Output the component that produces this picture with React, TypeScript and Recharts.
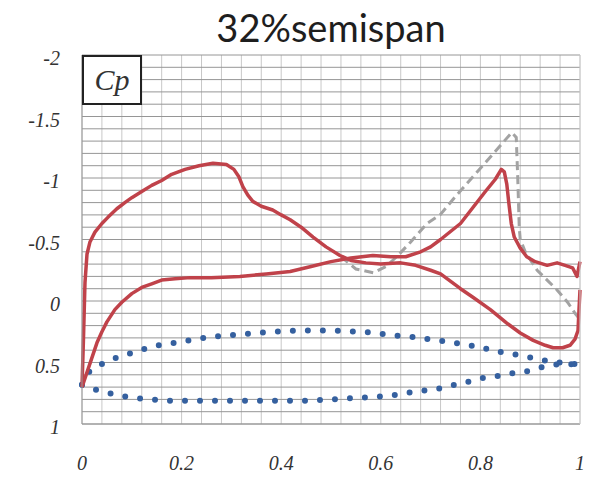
import React from "react";
import {
  LineChart,
  Line,
  XAxis,
  YAxis,
  CartesianGrid,
} from "recharts";

// Cp distribution at 32% semispan (x/c vs Cp, y axis reversed)
const redUpper = [
  { x: 0, cp: 0.7 }, { x: 0.003, cp: 0.3 }, { x: 0.006, cp: -0.15 },
  { x: 0.01, cp: -0.38 }, { x: 0.016, cp: -0.48 }, { x: 0.026, cp: -0.56 },
  { x: 0.04, cp: -0.63 }, { x: 0.052, cp: -0.68 }, { x: 0.07, cp: -0.75 },
  { x: 0.086, cp: -0.8 }, { x: 0.1, cp: -0.84 }, { x: 0.12, cp: -0.89 },
  { x: 0.14, cp: -0.94 }, { x: 0.16, cp: -0.98 }, { x: 0.18, cp: -1.03 },
  { x: 0.207, cp: -1.07 }, { x: 0.235, cp: -1.1 }, { x: 0.263, cp: -1.12 },
  { x: 0.29, cp: -1.11 }, { x: 0.305, cp: -1.07 }, { x: 0.315, cp: -1.01 },
  { x: 0.323, cp: -0.93 }, { x: 0.333, cp: -0.86 }, { x: 0.343, cp: -0.81 },
  { x: 0.36, cp: -0.77 }, { x: 0.383, cp: -0.74 }, { x: 0.4, cp: -0.7 },
  { x: 0.418, cp: -0.66 }, { x: 0.44, cp: -0.6 }, { x: 0.464, cp: -0.52 },
  { x: 0.49, cp: -0.44 }, { x: 0.518, cp: -0.37 }, { x: 0.54, cp: -0.33 },
  { x: 0.57, cp: -0.31 }, { x: 0.6, cp: -0.3 }, { x: 0.64, cp: -0.31 },
  { x: 0.67, cp: -0.29 }, { x: 0.7, cp: -0.25 }, { x: 0.72, cp: -0.22 },
  { x: 0.76, cp: -0.1 }, { x: 0.785, cp: -0.03 }, { x: 0.82, cp: 0.07 },
  { x: 0.853, cp: 0.18 }, { x: 0.88, cp: 0.26 }, { x: 0.906, cp: 0.32 },
  { x: 0.93, cp: 0.36 }, { x: 0.946, cp: 0.38 }, { x: 0.965, cp: 0.38 },
  { x: 0.98, cp: 0.36 }, { x: 0.99, cp: 0.31 }, { x: 0.996, cp: 0.24 },
  { x: 0.998, cp: 0.07 }, { x: 1.0, cp: -0.09 },
];

const redLower = [
  { x: 0, cp: 0.7 }, { x: 0.01, cp: 0.58 }, { x: 0.02, cp: 0.46 },
  { x: 0.03, cp: 0.34 }, { x: 0.04, cp: 0.25 }, { x: 0.05, cp: 0.17 },
  { x: 0.066, cp: 0.07 }, { x: 0.08, cp: 0.01 }, { x: 0.1, cp: -0.06 },
  { x: 0.12, cp: -0.11 }, { x: 0.14, cp: -0.14 }, { x: 0.16, cp: -0.17 },
  { x: 0.187, cp: -0.18 }, { x: 0.217, cp: -0.19 }, { x: 0.26, cp: -0.19 },
  { x: 0.317, cp: -0.2 }, { x: 0.37, cp: -0.22 }, { x: 0.418, cp: -0.24 },
  { x: 0.46, cp: -0.28 }, { x: 0.5, cp: -0.32 }, { x: 0.54, cp: -0.35 },
  { x: 0.584, cp: -0.37 }, { x: 0.62, cp: -0.36 }, { x: 0.65, cp: -0.36 },
  { x: 0.68, cp: -0.4 }, { x: 0.7, cp: -0.44 }, { x: 0.72, cp: -0.5 },
  { x: 0.76, cp: -0.63 }, { x: 0.785, cp: -0.76 }, { x: 0.81, cp: -0.89 },
  { x: 0.83, cp: -0.99 }, { x: 0.842, cp: -1.07 }, { x: 0.848, cp: -1.05 },
  { x: 0.853, cp: -0.95 }, { x: 0.857, cp: -0.8 }, { x: 0.862, cp: -0.63 },
  { x: 0.868, cp: -0.52 }, { x: 0.88, cp: -0.43 }, { x: 0.893, cp: -0.36 },
  { x: 0.91, cp: -0.32 }, { x: 0.934, cp: -0.29 }, { x: 0.954, cp: -0.31 },
  { x: 0.97, cp: -0.29 }, { x: 0.985, cp: -0.27 }, { x: 0.994, cp: -0.2 },
  { x: 1.0, cp: -0.32 },
];

const grayDashed = [
  { x: 0.52, cp: -0.36 }, { x: 0.55, cp: -0.26 }, { x: 0.585, cp: -0.23 },
  { x: 0.61, cp: -0.28 }, { x: 0.632, cp: -0.36 }, { x: 0.66, cp: -0.48 },
  { x: 0.693, cp: -0.63 }, { x: 0.719, cp: -0.7 }, { x: 0.75, cp: -0.85 },
  { x: 0.785, cp: -1.01 }, { x: 0.82, cp: -1.17 }, { x: 0.85, cp: -1.31 },
  { x: 0.863, cp: -1.37 }, { x: 0.872, cp: -1.33 }, { x: 0.875, cp: -1.0 },
  { x: 0.878, cp: -0.6 }, { x: 0.88, cp: -0.5 }, { x: 0.89, cp: -0.4 },
  { x: 0.914, cp: -0.25 }, { x: 0.934, cp: -0.17 }, { x: 0.954, cp: -0.09 },
  { x: 0.975, cp: 0.01 }, { x: 0.99, cp: 0.1 }, { x: 1.0, cp: 0.15 },
];

const blueUpper = [
  { x: 0, cp: 0.68 }, { x: 0.01, cp: 0.59 }, { x: 0.026, cp: 0.54 },
  { x: 0.056, cp: 0.48 }, { x: 0.085, cp: 0.44 }, { x: 0.11, cp: 0.41 },
  { x: 0.14, cp: 0.37 }, { x: 0.17, cp: 0.35 }, { x: 0.2, cp: 0.33 },
  { x: 0.23, cp: 0.31 }, { x: 0.26, cp: 0.29 }, { x: 0.29, cp: 0.28 },
  { x: 0.32, cp: 0.27 }, { x: 0.35, cp: 0.26 }, { x: 0.38, cp: 0.25 },
  { x: 0.41, cp: 0.245 }, { x: 0.44, cp: 0.24 }, { x: 0.5, cp: 0.24 },
  { x: 0.56, cp: 0.25 }, { x: 0.59, cp: 0.26 }, { x: 0.62, cp: 0.28 },
  { x: 0.65, cp: 0.285 }, { x: 0.68, cp: 0.3 }, { x: 0.71, cp: 0.32 },
  { x: 0.74, cp: 0.33 }, { x: 0.77, cp: 0.36 }, { x: 0.8, cp: 0.37 },
  { x: 0.825, cp: 0.41 }, { x: 0.855, cp: 0.42 }, { x: 0.886, cp: 0.45 },
  { x: 0.916, cp: 0.47 }, { x: 0.944, cp: 0.5 }, { x: 0.974, cp: 0.5 },
  { x: 1.0, cp: 0.52 },
];

const blueLower = [
  { x: 0, cp: 0.68 }, { x: 0.016, cp: 0.71 }, { x: 0.046, cp: 0.74 },
  { x: 0.076, cp: 0.77 }, { x: 0.106, cp: 0.79 }, { x: 0.136, cp: 0.8 },
  { x: 0.17, cp: 0.81 }, { x: 0.3, cp: 0.81 }, { x: 0.45, cp: 0.81 },
  { x: 0.5, cp: 0.8 }, { x: 0.56, cp: 0.785 }, { x: 0.59, cp: 0.78 },
  { x: 0.62, cp: 0.77 }, { x: 0.65, cp: 0.75 }, { x: 0.68, cp: 0.73 },
  { x: 0.71, cp: 0.72 }, { x: 0.735, cp: 0.69 }, { x: 0.765, cp: 0.67 },
  { x: 0.795, cp: 0.63 }, { x: 0.825, cp: 0.62 }, { x: 0.855, cp: 0.59 },
  { x: 0.886, cp: 0.58 }, { x: 0.914, cp: 0.545 }, { x: 0.944, cp: 0.52 },
  { x: 0.974, cp: 0.51 }, { x: 1.0, cp: 0.52 },
];

const xLabels = [0, 0.2, 0.4, 0.6, 0.8, 1];
const yLabels = [-2, -1.5, -1, -0.5, 0, 0.5, 1];

// grid spacing: 0.04 along x, 0.1 along Cp
const xGrid = Array.from({ length: 26 }, (_, i) => +(i * 0.04).toFixed(2));
const yGrid = Array.from({ length: 31 }, (_, i) => +(-2 + i * 0.1).toFixed(1));
const rightTicks = [0, 1, 2, 3, 4, 5, 6, 7, 8, 9];

const RED = "#c0424a";
const BLUE = "#35609f";
const GRAY = "#a3a3a3";

const tickFont = {
  fontFamily: "'Liberation Serif', serif",
  fontStyle: "italic",
  fontSize: 20,
  fill: "#333",
};

const fmt = (labels: number[]) => (v: number) =>
  labels.some((l) => Math.abs(l - v) < 1e-6) ? String(v) : "";

export default function App() {
  return (
    <div
      style={{
        position: "absolute",
        left: 0,
        top: 0,
        width: 597,
        height: 481,
        background: "#fff",
      }}
    >
      <div
        style={{
          position: "absolute",
          left: 82,
          width: 498,
          top: 4,
          textAlign: "center",
          fontFamily: "Lato, 'Noto Sans', sans-serif",
          fontSize: 38,
          color: "#1e1e1e",
        }}
      >
        32%semispan
      </div>
      <LineChart
        width={597}
        height={481}
        margin={{ top: 55, right: 0, bottom: 0, left: 0 }}
      >
        <CartesianGrid yAxisId="left" horizontal={false} stroke="#c8c8c8" />
        <CartesianGrid yAxisId="left" vertical={false} stroke="#969696" />
        <XAxis
          type="number"
          dataKey="x"
          domain={[0, 1]}
          ticks={xGrid}
          interval={0}
          tickFormatter={fmt(xLabels)}
          tickLine={false}
          tickSize={0}
          tickMargin={32}
          height={57}
          axisLine={{ stroke: "#999" }}
          tick={tickFont}
        />
        <YAxis
          yAxisId="left"
          type="number"
          domain={[-2, 1]}
          reversed
          ticks={yGrid}
          interval={0}
          tickFormatter={fmt(yLabels)}
          tickLine={false}
          tickSize={0}
          tickMargin={22}
          width={82}
          axisLine={{ stroke: "#999" }}
          tick={{ ...tickFont, dy: 3 }}
        />
        <YAxis
          yAxisId="right"
          orientation="right"
          type="number"
          domain={[0, 9]}
          ticks={rightTicks}
          interval={0}
          tickFormatter={() => ""}
          tickSize={5}
          width={17}
          axisLine={{ stroke: "#d0d0d0" }}
          tickLine={{ stroke: "#c0c0c0" }}
        />
        <Line
          yAxisId="left"
          data={blueUpper}
          dataKey="cp"
          type="linear"
          stroke={BLUE}
          strokeWidth={6}
          strokeDasharray="0 15"
          strokeLinecap="round"
          dot={false}
          isAnimationActive={false}
        />
        <Line
          yAxisId="left"
          data={blueLower}
          dataKey="cp"
          type="linear"
          stroke={BLUE}
          strokeWidth={6}
          strokeDasharray="0 15"
          strokeLinecap="round"
          dot={false}
          isAnimationActive={false}
        />
        <Line
          yAxisId="left"
          data={grayDashed}
          dataKey="cp"
          type="linear"
          stroke={GRAY}
          strokeWidth={3}
          strokeDasharray="9 5"
          dot={false}
          isAnimationActive={false}
        />
        <Line
          yAxisId="left"
          data={redUpper}
          dataKey="cp"
          type="linear"
          stroke={RED}
          strokeWidth={3.5}
          strokeLinejoin="round"
          dot={false}
          isAnimationActive={false}
        />
        <Line
          yAxisId="left"
          data={redLower}
          dataKey="cp"
          type="linear"
          stroke={RED}
          strokeWidth={3.5}
          strokeLinejoin="round"
          dot={false}
          isAnimationActive={false}
        />
      </LineChart>
      <div
        style={{
          position: "absolute",
          left: 82,
          top: 55,
          width: 56,
          height: 46,
          border: "2px solid #222",
          background: "#fff",
          display: "flex",
          alignItems: "center",
          justifyContent: "center",
          fontFamily: "'Liberation Serif', serif",
          fontStyle: "italic",
          fontSize: 30,
          color: "#333",
        }}
      >
        Cp
      </div>
    </div>
  );
}
